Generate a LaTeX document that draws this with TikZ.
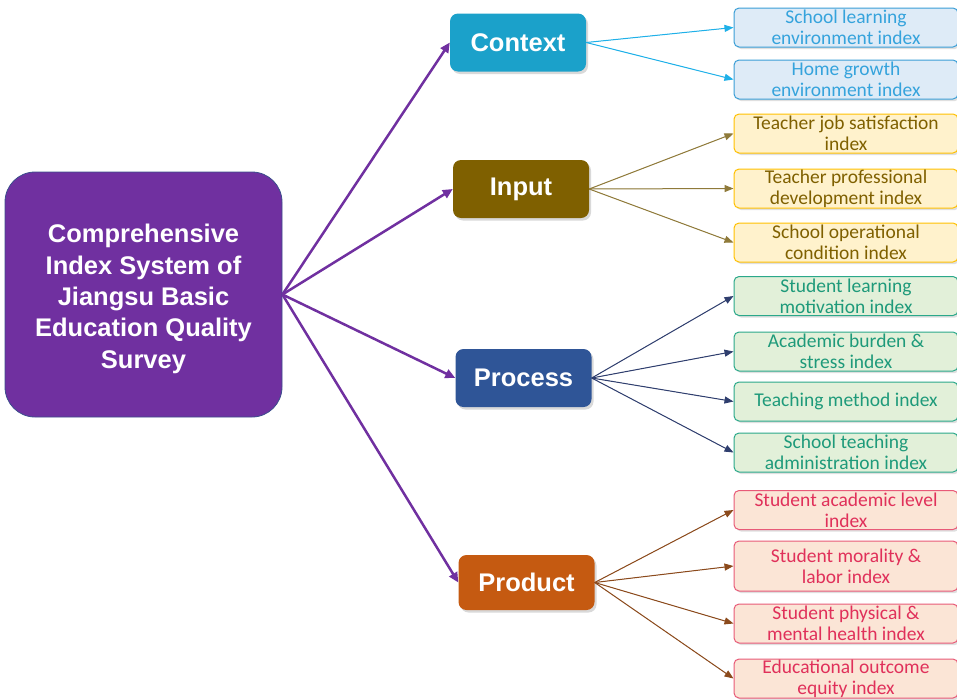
\documentclass[tikz,border=0pt]{standalone}
\usepackage{fontspec}
\setmainfont{Carlito}
\newfontfamily\headfont{Liberation Sans}
\usetikzlibrary{arrows.meta,shadows}
\definecolor{mainc}{HTML}{7030A0}
\definecolor{mainb}{HTML}{3B4E8C}
\definecolor{ctxc}{HTML}{1BA1CA}
\definecolor{inpc}{HTML}{7F6000}
\definecolor{proc}{HTML}{2F5597}
\definecolor{prdc}{HTML}{C55A11}
\definecolor{ctxfill}{HTML}{DEEBF7}
\definecolor{ctxline}{HTML}{3A9ED6}
\definecolor{ctxtext}{HTML}{35A3DC}
\definecolor{ctxarr}{HTML}{1FB0E8}
\definecolor{inpfill}{HTML}{FFF2CC}
\definecolor{inpline}{HTML}{FFC000}
\definecolor{inptext}{HTML}{7F6000}
\definecolor{inparr}{HTML}{8F7A3A}
\definecolor{profill}{HTML}{E2F0D9}
\definecolor{proline}{HTML}{2AA88A}
\definecolor{protext}{HTML}{1E9A7A}
\definecolor{proarr}{HTML}{2F3E6E}
\definecolor{prdfill}{HTML}{FBE5D6}
\definecolor{prdline}{HTML}{E85A78}
\definecolor{prdtext}{HTML}{E0305A}
\definecolor{prdarr}{HTML}{8B4A1C}
\tikzset{
  mainbox/.style={draw=mainb, line width=0.8pt, fill=mainc, rounded corners=30pt,
    minimum width=277pt, minimum height=245pt, text=white, align=center,
    font=\headfont\bfseries\fontsize{25.5}{31.3}\selectfont, inner sep=0pt},
  parentbox/.style={rounded corners=8pt, minimum width=136pt, minimum height=58pt,
    text=white, font=\headfont\bfseries\fontsize{25.5}{28}\selectfont, inner sep=0pt,
    drop shadow={opacity=0.3, shadow xshift=2pt, shadow yshift=-2.5pt}},
  childbox/.style={rounded corners=5pt, line width=1pt, minimum width=224pt,
    minimum height=39pt, align=center, inner sep=0pt,
    font=\fontsize{19.5}{21}\selectfont,
    drop shadow={opacity=0.25, shadow xshift=2pt, shadow yshift=-2pt}},
  ctxchild/.style={childbox, fill=ctxfill, draw=ctxline, text=ctxtext},
  inpchild/.style={childbox, fill=inpfill, draw=inpline, text=inptext},
  prochild/.style={childbox, fill=profill, draw=proline, text=protext},
  prdchild/.style={childbox, fill=prdfill, draw=prdline, text=prdtext},
  mainarrow/.style={draw=mainc, line width=2.5pt, -{Triangle[length=10pt,width=9pt]}},
  childarrow/.style={line width=1pt, -{Triangle[length=9pt,width=7pt]}}
}
\begin{document}
\begin{tikzpicture}[x=1pt,y=-1pt]
\useasboundingbox (0,0) rectangle (957,699);
\node[mainbox] (main) at (143.5,294.5) {\rule{0pt}{3pt}\\[-7pt]Comprehensive\\Index System of\\Jiangsu Basic\\Education Quality\\Survey};

\node[parentbox, fill=ctxc] (ctx) at (518,42.5) {Context};
\node[parentbox, fill=inpc] (inp) at (521,189) {Input};
\node[parentbox, fill=proc] (pro) at (523.5,378) {Process};
\node[parentbox, fill=prdc, minimum height=55pt] (prd) at (526.5,582.5) {Product};

\node[ctxchild] (c1) at (846,27.5) {School learning\\environment index};
\node[ctxchild] (c2) at (846,79.5) {Home growth\\environment index};

\node[inpchild] (i1) at (846,133.5) {Teacher job satisfaction\\index};
\node[inpchild] (i2) at (846,188.5) {Teacher professional\\development index};
\node[inpchild] (i3) at (846,242.5) {School operational\\condition index};

\node[prochild] (p1) at (846,296) {Student learning\\motivation index};
\node[prochild] (p2) at (846,351.5) {Academic burden \&\\stress index};
\node[prochild] (p3) at (846,401.5) {Teaching method index};
\node[prochild] (p4) at (846,452.5) {School teaching\\administration index};

\node[prdchild] (d1) at (846,510) {Student academic level\\index};
\node[prdchild, minimum height=50pt] (d2) at (846,566) {Student morality \&\\labor index};
\node[prdchild] (d3) at (846,623.5) {Student physical \&\\mental health index};
\node[prdchild] (d4) at (846,678.5) {Educational outcome\\equity index};

\coordinate (hub) at (main.east);
\draw[mainarrow] (hub) -- (ctx.west);
\draw[mainarrow] (hub) -- (inp.west);
\draw[mainarrow] (hub) -- (pro.west);
\draw[mainarrow] (hub) -- (prd.west);

\foreach \c in {c1,c2} \draw[childarrow, draw=ctxarr, fill=ctxarr] (ctx.east) -- (\c.west);
\foreach \c in {i1,i2,i3} \draw[childarrow, draw=inparr, fill=inparr] (inp.east) -- (\c.west);
\foreach \c in {p1,p2,p3,p4} \draw[childarrow, draw=proarr, fill=proarr] (pro.east) -- (\c.west);
\foreach \c in {d1,d2,d3,d4} \draw[childarrow, draw=prdarr, fill=prdarr] (prd.east) -- (\c.west);
\end{tikzpicture}
\end{document}
